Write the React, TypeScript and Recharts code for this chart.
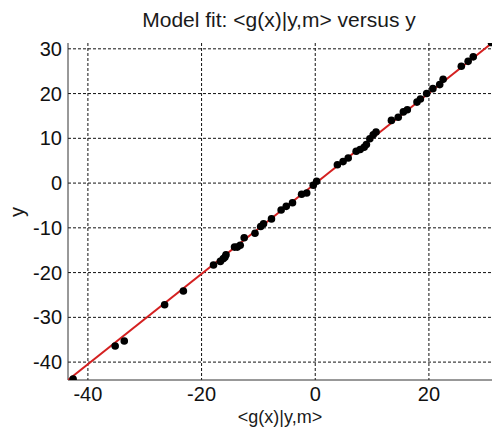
import React from 'react'
import {
  ScatterChart, Scatter, XAxis, YAxis, CartesianGrid, Label,
} from 'recharts'

// <g(x)|y,m> against y
const observations = [
  { x: -42.6, y: -43.8 },
  { x: -35.2, y: -36.4 },
  { x: -33.6, y: -35.3 },
  { x: -26.5, y: -27.2 },
  { x: -23.2, y: -24.1 },
  { x: -17.9, y: -18.3 },
  { x: -16.7, y: -17.5 },
  { x: -16.2, y: -16.9 },
  { x: -15.9, y: -16.6 },
  { x: -15.7, y: -16.0 },
  { x: -14.2, y: -14.3 },
  { x: -13.7, y: -14.3 },
  { x: -13.2, y: -13.9 },
  { x: -12.5, y: -12.2 },
  { x: -10.6, y: -11.2 },
  { x: -9.6, y: -9.7 },
  { x: -9.1, y: -9.1 },
  { x: -7.7, y: -8.0 },
  { x: -6.0, y: -6.0 },
  { x: -5.1, y: -5.2 },
  { x: -4.0, y: -4.4 },
  { x: -2.4, y: -2.5 },
  { x: -1.5, y: -2.2 },
  { x: -0.35, y: -0.5 },
  { x: 0.25, y: 0.4 },
  { x: 3.9, y: 4.1 },
  { x: 4.9, y: 4.8 },
  { x: 5.8, y: 5.6 },
  { x: 7.2, y: 7.1 },
  { x: 7.9, y: 7.5 },
  { x: 8.6, y: 8.0 },
  { x: 9.0, y: 8.6 },
  { x: 9.6, y: 9.9 },
  { x: 10.2, y: 10.8 },
  { x: 10.7, y: 11.4 },
  { x: 13.4, y: 14.0 },
  { x: 14.6, y: 14.7 },
  { x: 15.5, y: 15.9 },
  { x: 16.2, y: 16.4 },
  { x: 17.9, y: 18.1 },
  { x: 18.5, y: 18.8 },
  { x: 19.6, y: 20.0 },
  { x: 20.7, y: 21.1 },
  { x: 21.9, y: 22.0 },
  { x: 22.5, y: 23.2 },
  { x: 25.7, y: 26.1 },
  { x: 26.9, y: 27.2 },
  { x: 27.8, y: 28.2 },
  { x: 31.0, y: 31.4 },
]

const fitLine = [
  { x: -43.5, y: -44 },
  { x: 31.1, y: 31.3 },
]

const xTicks = [-40, -20, 0, 20]
const yTicks = [-40, -30, -20, -10, 0, 10, 20, 30]

const FONT = 'Arial, "Liberation Sans", sans-serif'

const Dot = (props) => <circle cx={props.cx} cy={props.cy} r={3.8} fill="#000" />
const NoDot = () => <g />

export default function App() {
  return (
    <div style={{ position: 'absolute', left: 0, top: 0, width: 492, height: 428, background: '#fff', fontFamily: FONT }}>
      <div style={{ position: 'absolute', left: 0, width: 558, top: 9, fontSize: 21, lineHeight: '21px', textAlign: 'center', color: '#1a1a1a', whiteSpace: 'nowrap' }}>
        Model fit: &lt;g(x)|y,m&gt; versus y
      </div>
      <div style={{ position: 'absolute', left: 17, top: 212, fontSize: 20, lineHeight: '20px', color: '#1a1a1a', transform: 'translate(-50%, -50%) rotate(-90deg)' }}>
        y
      </div>
      <ScatterChart width={492} height={428} margin={{ top: 43, right: 0, bottom: 0, left: 0 }}>
        <CartesianGrid stroke="#111" strokeDasharray="3 2" horizontalValues={yTicks} verticalValues={xTicks} />
        <XAxis
          type="number" dataKey="x" domain={[-43.5, 31.1]} ticks={xTicks} allowDataOverflow
          height={48} stroke="#333" tickLine={false} tickMargin={1}
          tick={{ fill: '#111', fontSize: 20, fontFamily: FONT }}
        >
          <Label value="<g(x)|y,m>" position="insideBottom" offset={5} fill="#1a1a1a" fontSize={18} fontFamily={FONT} />
        </XAxis>
        <YAxis
          type="number" dataKey="y" domain={[-44, 31.3]} ticks={yTicks} allowDataOverflow
          width={68} stroke="#333" tickLine={false} tickMargin={0}
          tick={{ fill: '#111', fontSize: 20, fontFamily: FONT }}
        />
        <Scatter data={fitLine} line={{ stroke: '#d42020', strokeWidth: 2 }} shape={NoDot} isAnimationActive={false} />
        <Scatter data={observations} shape={Dot} isAnimationActive={false} />
      </ScatterChart>
    </div>
  )
}
